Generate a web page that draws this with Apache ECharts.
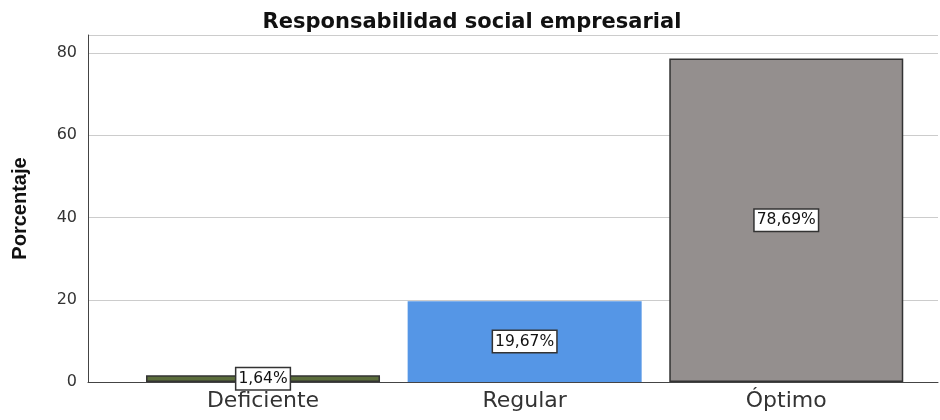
<!DOCTYPE html>
<html><head><meta charset="utf-8">
<script src="https://cdn.jsdelivr.net/npm/echarts@6/dist/echarts.min.js"></script>
<style>html,body{margin:0;padding:0;background:#fff}#c{width:940px;height:420px}</style>
</head><body><div id="c"></div>
<script>
const categories = ['Deficiente', 'Regular', 'Óptimo'];
const values = [1.64, 19.67, 78.69];
const labels = ['1,64%', '19,67%', '78,69%'];
const colors = ['#5b6d3b', '#5596e6', '#948f8e'];
const borders = ['#333333', '#5596e6', '#333333'];
const yTicks = [0, 20, 40, 60, 80];

const chart = echarts.init(document.getElementById('c'));
const positions = categories.map((c, i) => i);
chart.setOption({
  animation: false,
  title: {
    text: 'Responsabilidad social empresarial',
    left: 467, top: 7, textAlign: 'center',
    textStyle: {fontFamily: 'DejaVu Sans', fontWeight: 'bold', fontSize: 21, color: '#111'}
  },
  grid: {left: 88, right: 2, top: 35, bottom: 38},
  xAxis: {
    type: 'value', min: -0.669, max: 2.58,
    axisLine: {show: true, onZero: false, lineStyle: {color: '#444', width: 1}},
    axisTick: {show: false},
    splitLine: {show: false},
    axisLabel: {
      customValues: positions,
      formatter: v => categories[Math.round(v)],
      fontFamily: 'DejaVu Sans', fontSize: 22, color: '#333', margin: 8
    }
  },
  yAxis: {
    type: 'value', min: 0, max: 84.4, interval: 20,
    name: 'Porcentaje', nameLocation: 'middle', nameGap: 58, nameRotate: 90,
    nameTextStyle: {fontFamily: 'Liberation Sans', fontWeight: 'bold', fontSize: 20, color: '#111'},
    axisLine: {show: true, onZero: false, lineStyle: {color: '#444', width: 1}},
    axisTick: {show: false},
    axisLabel: {
      customValues: yTicks,
      fontFamily: 'DejaVu Sans', fontSize: 16, color: '#333', margin: 11
    },
    splitLine: {show: true, lineStyle: {color: '#cccccc', width: 1}}
  },
  series: [{
    type: 'bar',
    barWidth: 234,
    data: values.map((v, i) => ({
      value: [i, v],
      itemStyle: {color: colors[i], borderColor: borders[i], borderWidth: 1.5}
    })),
    label: {
      show: true, position: 'inside',
      formatter: p => labels[p.dataIndex],
      fontFamily: 'DejaVu Sans', fontSize: 15.5, color: '#111',
      backgroundColor: '#fff', borderColor: '#333', borderWidth: 1.5,
      padding: [3, 2, 2, 2]
    }
  }]
});
</script></body></html>
